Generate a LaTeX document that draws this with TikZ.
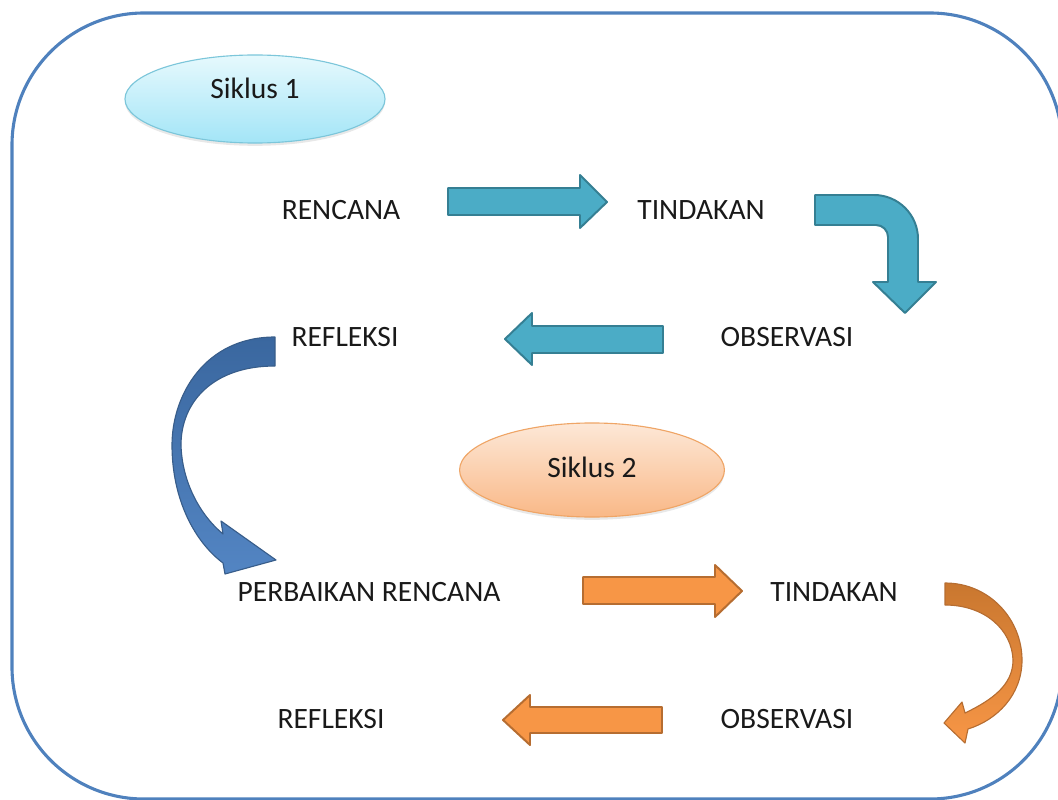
\documentclass[tikz,border=0pt]{standalone}
\usepackage{fontspec}
\setmainfont{Carlito}
\usepackage{tikz}
\usetikzlibrary{shapes.geometric,shadows}
\definecolor{framebl}{HTML}{4F81BD}
\definecolor{tealfill}{HTML}{4BACC6}
\definecolor{tealline}{HTML}{357F93}
\definecolor{orfill}{HTML}{F79646}
\definecolor{ortop}{HTML}{C9772F}
\definecolor{orline}{HTML}{B66D31}
\definecolor{bltop}{HTML}{3A679F}
\definecolor{blbot}{HTML}{5385C3}
\definecolor{blline}{HTML}{385D8A}
\definecolor{sonetop}{HTML}{E6F9FD}
\definecolor{sonebot}{HTML}{A3E5F7}
\definecolor{soneline}{HTML}{7CC6DA}
\definecolor{stwotop}{HTML}{FDE8D7}
\definecolor{stwobot}{HTML}{F9B887}
\definecolor{stwoline}{HTML}{EFA566}

\begin{document}
\begin{tikzpicture}[x=0.025cm, y=-0.025cm,
    every node/.style={font=\fontsize{21}{25}\selectfont, text=black!90},
    tealarrow/.style={fill=tealfill, draw=tealline, line width=1.4pt, line join=round},
    orangearrow/.style={fill=orfill, draw=orline, line width=1.4pt, line join=round},
    siklus/.style={ellipse, inner sep=0pt, line width=0.8pt,
        drop shadow={opacity=0.18, shadow xshift=0pt, shadow yshift=-2pt}}]
    \useasboundingbox (0,0) rectangle (1058,800);
    % bingkai luar
    \draw[framebl, line width=2.2pt, rounded corners=3.3cm] (12,13) rectangle (1062,799);

    \path
        node (siklus1) at (255,99) [siklus, minimum width=6.5cm, minimum height=2.2cm,
            top color=sonetop, bottom color=sonebot, draw=soneline,
            label={[name=siklus1txt, yshift=0.27cm]center:Siklus 1}] {}
        node (siklus2) at (592,470) [siklus, minimum width=6.62cm, minimum height=2.35cm,
            top color=stwotop, bottom color=stwobot, draw=stwoline,
            label={[name=siklus2txt, yshift=0.07cm]center:Siklus 2}] {};

    \path
        node (rencana)    at (341,210) {RENCANA}
        node (tindakan)   at (701,210) {TINDAKAN}
        node (observasi)  at (787,337) {OBSERVASI}
        node (refleksi)   at (345,337) {REFLEKSI}
        node (perbaikan)  at (369,592) {PERBAIKAN RENCANA}
        node (tindakan2)  at (834,592) {TINDAKAN}
        node (observasi2) at (787,719) {OBSERVASI}
        node (refleksi2)  at (331,719) {REFLEKSI};

    % siklus 1
    \filldraw[tealarrow] (448,188) -- (580,188) -- (580,175) -- (607,202) -- (580,228)
        -- (580,215) -- (448,215) -- cycle;
    \filldraw[tealarrow] (815,195) [rounded corners=1.1cm] -- (918,195) [sharp corners]
        -- (918,282) -- (936,282) -- (905,313) -- (873,282) -- (888,282)
        [rounded corners=0.3cm] -- (888,225) [sharp corners] -- (815,225) -- cycle;
    \filldraw[tealarrow] (663,326) -- (532,326) -- (532,313) -- (505,339) -- (532,365)
        -- (532,353) -- (663,353) -- cycle;

    % refleksi -> perbaikan rencana
    \shadedraw[top color=bltop, bottom color=blbot, draw=blline, line width=0.8pt, line join=round]
        (275,337) .. controls (205,337) and (172,395) .. (172,445)
        .. controls (172,500) and (195,542) .. (223,563)
        -- (225,574) -- (276,560) -- (221,521) -- (223,534)
        .. controls (200,515) and (182,482) .. (181,445)
        .. controls (181,402) and (213,366) .. (275,366) -- cycle;

    % siklus 2
    \filldraw[orangearrow] (583,577) -- (715,577) -- (715,565) -- (742,591) -- (715,617)
        -- (715,604) -- (583,604) -- cycle;
    \shadedraw[top color=ortop, bottom color=orfill, draw=orline, line width=0.8pt, line join=round]
        (945,583) .. controls (990,583) and (1022,620) .. (1022,660)
        .. controls (1022,695) and (997,720) .. (968,729)
        -- (965,743) -- (944,723) -- (962,702) -- (965,713)
        .. controls (992,700) and (1013,685) .. (1013,660)
        .. controls (1012,630) and (985,605) .. (945,605) -- cycle;
    \filldraw[orangearrow] (662,707) -- (530,707) -- (530,695) -- (503,720) -- (530,745)
        -- (530,733) -- (662,733) -- cycle;
\end{tikzpicture}
\end{document}
